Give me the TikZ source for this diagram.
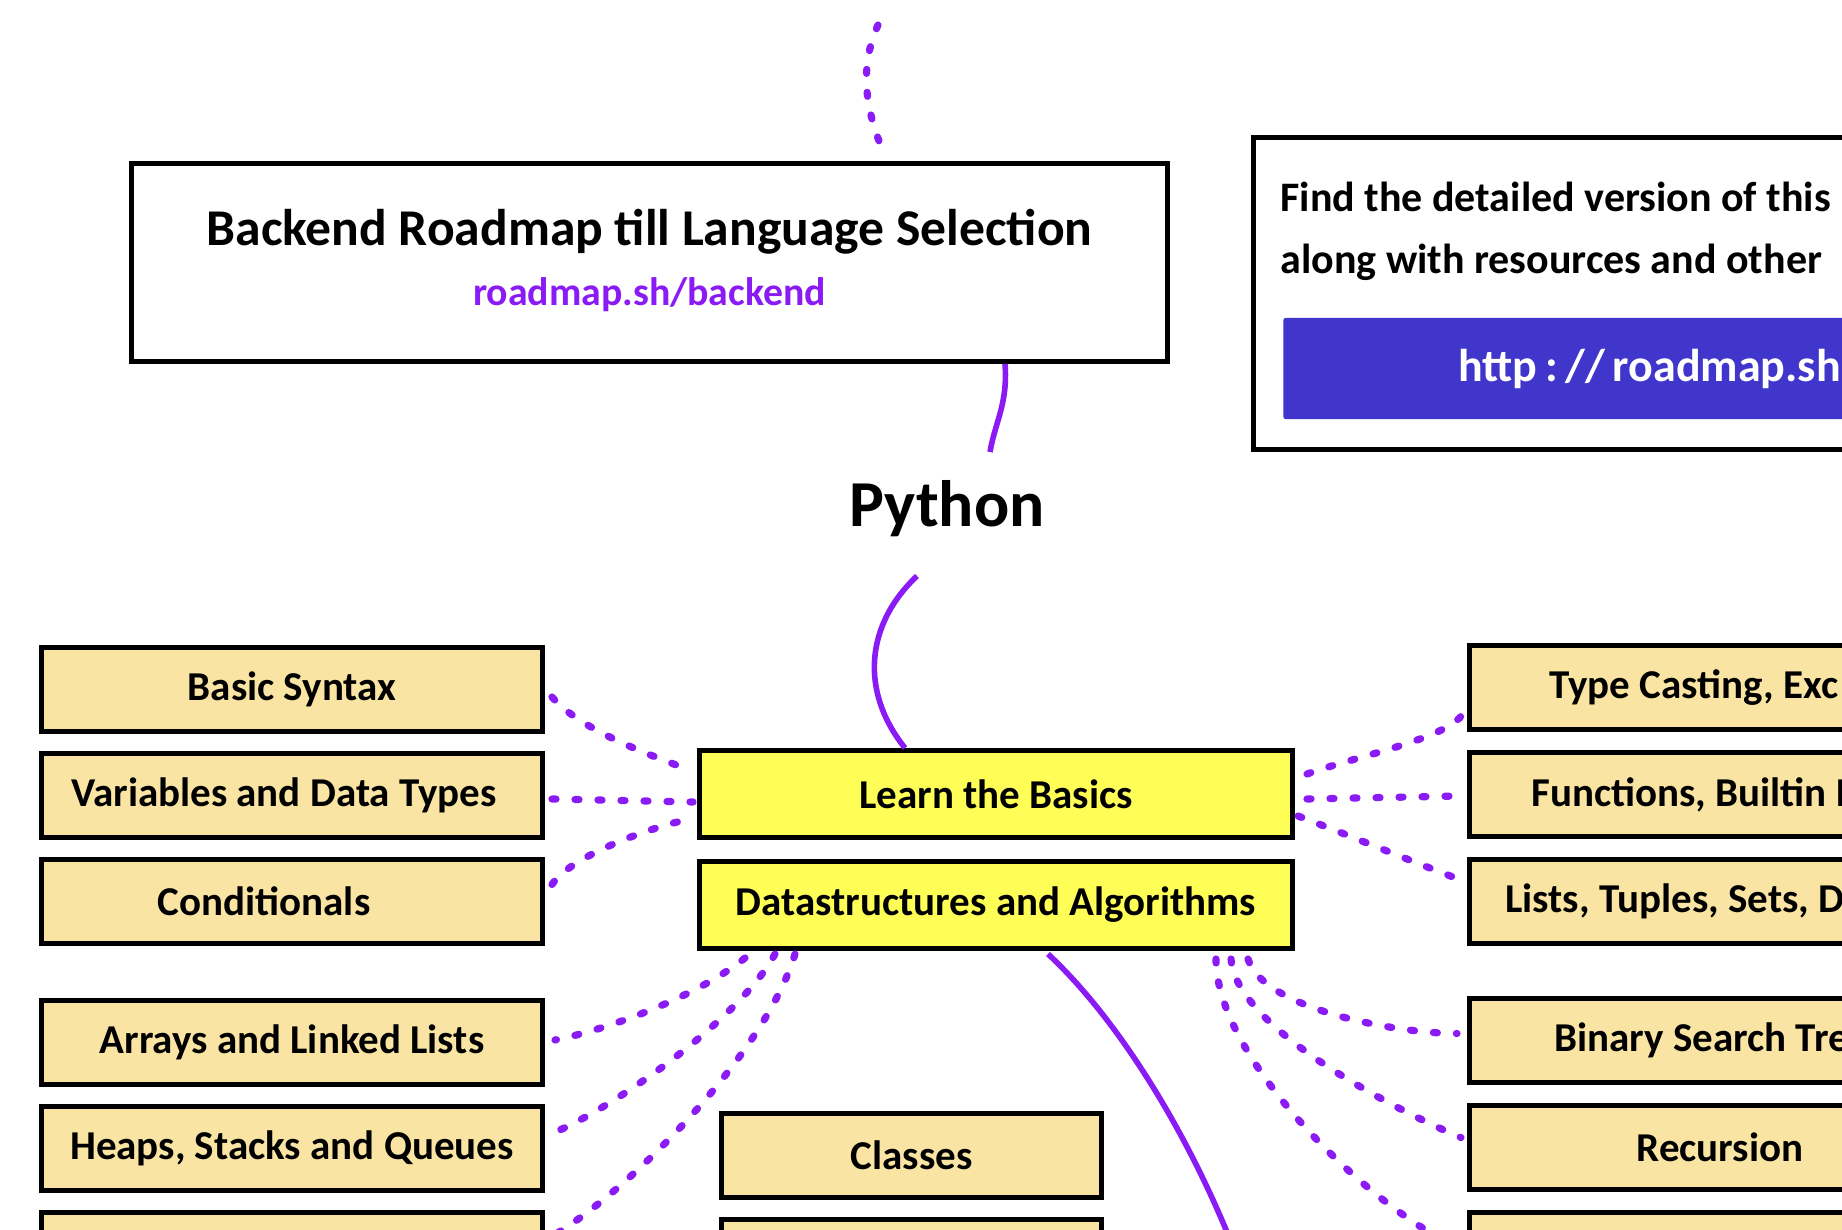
\documentclass[tikz,border=0pt]{standalone}
\usepackage{fontspec}
\setmainfont{Carlito}
\usepackage{xcolor}
\definecolor{cLink}{HTML}{8B1BF5}
\definecolor{cTopic}{HTML}{FAE4A3}
\definecolor{cMain}{HTML}{FFFE57}
\definecolor{cButton}{HTML}{4036CC}
\usepackage{tikz}
\usetikzlibrary{positioning}
\tikzset{
  node-box/.style={draw=black,line width=2.4pt,inner sep=0pt,align=center,
    font=\fontsize{20.5}{24}\selectfont\bfseries},
  node-topic/.style={node-box,fill=cTopic,minimum width=250.6pt,minimum height=42.1pt},
  node-main/.style={node-box,fill=cMain,minimum width=296.6pt,minimum height=43.6pt},
  node-class/.style={node-box,fill=cTopic,minimum width=190.1pt,minimum height=42.1pt},
  node-frame/.style={draw=black,line width=2.4pt,fill=white,inner sep=0pt},
  topic-label/.style={inner sep=0pt,anchor=west,font=\fontsize{20.5}{24}\selectfont\bfseries},
  link-solid/.style={draw=cLink,line width=2.8pt},
  link-dot/.style={draw=cLink,line width=3.6pt,line cap=round,dash pattern=on 2pt off 9.5pt},
}

\begin{document}
\begin{tikzpicture}[x=0.5pt,y=-0.5pt]
  \clip (0,0) rectangle (1842,1230);
  % header and info panel
  \node[node-frame,minimum width=518.1pt,minimum height=99.1pt] (title) at (649.5,262.5) {};
  \node[font=\fontsize{25.8}{30}\selectfont\bfseries] (title-text) at ([shift={(0,-31)}]title.center) {Backend Roadmap till Language Selection};
  \node[font=\fontsize{19.9}{24}\selectfont\bfseries,text=cLink] (title-url) at ([shift={(0,32)}]title.center) {roadmap.sh/backend};
  \node[node-frame,anchor=north west,minimum width=520pt,minimum height=156.1pt] (info) at (1251,135) {};
  \node[topic-label,font=\fontsize{21}{25}\selectfont\bfseries] (info-l1) at ([shift={(29,62)}]info.north west) {Find the detailed version of this};
  \node[topic-label,font=\fontsize{21}{25}\selectfont\bfseries] (info-l2) at ([shift={(29,127)}]info.north west) {along with resources and other};
  \node[fill=cButton,anchor=west,inner sep=0pt,minimum width=500pt,minimum height=50.5pt,rounded corners=1pt] (button) at ([shift={(32,233.5)}]info.north west) {};
  \node[topic-label,text=white,font=\fontsize{23}{27}\selectfont\bfseries] (button-text) at ([shift={(175,0)}]button.west) {http\,:\,//\,roadmap.sh};
  \node[font=\fontsize{32.8}{38}\selectfont\bfseries] (python) at (947,509) {Python};

  % center column
  \node[node-main] (basics) at (996,794) {Learn the Basics};
  \node[node-main,below=9.5pt of basics] (ds) {Datastructures and Algorithms};
  \node[node-class] (classes) at (911.5,1155.5) {Classes};
  \node[node-class,below=8.5pt of classes] (cnext) {};

  % left column
  \node[node-topic] (bsyn) at (292,689.5) {Basic Syntax};
  \node[node-topic,below=8.5pt of bsyn] (vars) {Variables and Data Types\hspace*{8pt}};
  \node[node-topic,below=8.5pt of vars] (cond) {Conditionals\hspace*{28pt}};
  \node[node-topic,below=26pt of cond] (arrays) {Arrays and Linked Lists};
  \node[node-topic,below=8.5pt of arrays] (heaps) {Heaps, Stacks and Queues};
  \node[node-topic,below=8.5pt of heaps] (lnext) {};

  % right column
  \node[node-topic] (tcast) at (1720,687.5) {};
  \node[node-topic,below=9pt of tcast] (funcs) {};
  \node[node-topic,below=9pt of funcs] (lists) {};
  \node[node-topic,below=25pt of lists] (bst) {};
  \node[node-topic,below=9pt of bst] (rec) {Recursion};
  \node[node-topic,below=9pt of rec] (rnext) {};
  \node[topic-label] (tcast-label) at ([shift={(82,0)}]tcast.west) {Type Casting, Exc};
  \node[topic-label] (funcs-label) at ([shift={(64,0)}]funcs.west) {Functions, Builtin F};
  \node[topic-label] (lists-label) at ([shift={(38,0)}]lists.west) {Lists, Tuples, Sets, Di};
  \node[topic-label] (bst-label) at ([shift={(87,0)}]bst.west) {Binary Search Tre};

  % solid path
  \coordinate (topin) at (878,25);
  \coordinate (dsout) at (1240,1265);
  \draw[link-dot] (topin) .. controls +(-20,45) and +(-20,-45) .. ([shift={(236.5,-3)}]title.north);
  \draw[link-solid] ([shift={(-165,0)}]title.south east) .. controls +(3,40) and +(5,-30) .. ([shift={(43,-57)}]python.center);
  \draw[link-solid] ([shift={(-30,67)}]python.center) .. controls +(-52,49) and +(-45,-56) .. ([shift={(-91,0)}]basics.north);
  \draw[link-solid] ([shift={(52,3)}]ds.south) .. controls +(75,70) and +(-45,-120) .. (dsout);

  % dotted links
  \draw[link-dot] ([shift={(7,7.5)}]bsyn.east) .. controls +(30,35) and +(-25,-10) .. ([shift={(-13,-26)}]basics.west);
  \draw[link-dot] ([shift={(7,3.5)}]vars.east) -- ([shift={(-4,8)}]basics.west);
  \draw[link-dot] ([shift={(7,-17)}]cond.east) .. controls +(20,-30) and +(-30,6) .. ([shift={(-11,26)}]basics.west);
  \draw[link-dot] ([shift={(12,-20)}]basics.east) .. controls +(50,-18) and +(-15,25) .. ([shift={(-4,26)}]tcast.west);
  \draw[link-dot] ([shift={(12,5)}]basics.east) -- ([shift={(-8,1.5)}]funcs.west);
  \draw[link-dot] ([shift={(3,22)}]basics.east) .. controls +(40,15) and +(-40,-15) .. ([shift={(-10,-23)}]lists.west);
  \draw[link-dot] ([shift={(48,7)}]ds.south west) .. controls +(-50,40) and +(50,-10) .. ([shift={(10,-2.5)}]arrays.east);
  \draw[link-dot] ([shift={(78,3)}]ds.south west) .. controls +(-35,65) and +(60,-25) .. ([shift={(9,-16)}]heaps.east);
  \draw[link-dot] ([shift={(98,3)}]ds.south west) .. controls +(-30,100) and +(75,-45) .. ([shift={(10,-20)}]lnext.east);
  \draw[link-dot] ([shift={(-47,8)}]ds.south east) .. controls +(15,50) and +(-60,0) .. ([shift={(-10,-7)}]bst.west);
  \draw[link-dot] ([shift={(-64,8)}]ds.south east) .. controls +(5,70) and +(-60,-25) .. ([shift={(-6,-10)}]rec.west);
  \draw[link-dot] ([shift={(-79,8)}]ds.south east) .. controls +(0,100) and +(-90,-40) .. ([shift={(-7,-6)}]rnext.west);
\end{tikzpicture}
\end{document}
